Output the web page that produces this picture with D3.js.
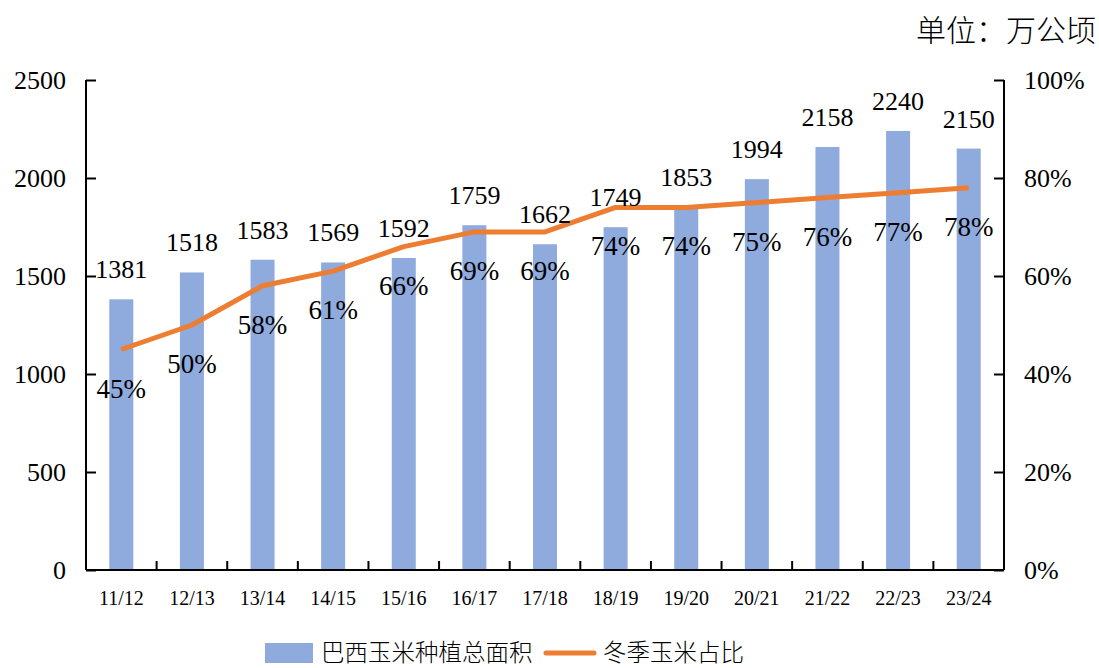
<!DOCTYPE html>
<html>
<head>
<meta charset="utf-8">
<script src="https://cdn.jsdelivr.net/npm/d3@7"></script>
<style>
  body { margin: 0; background: #fff; }
  text { font-family: "Liberation Serif", "Times New Roman", serif; fill: #000; }
  .cjk { font-family: "Noto Sans CJK SC", sans-serif; font-weight: 300; }
</style>
</head>
<body>
<svg id="chart" width="1099" height="668"></svg>
<script>
const seasons = ['11/12', '12/13', '13/14', '14/15', '15/16', '16/17', '17/18', '18/19', '19/20', '20/21', '21/22', '22/23', '23/24']
const totalArea = [1381, 1518, 1583, 1569, 1592, 1759, 1662, 1749, 1853, 1994, 2158, 2240, 2150]
const winterShare = [45, 50, 58, 61, 66, 69, 69, 74, 74, 75, 76, 77, 78]
const leftTicks = [0, 500, 1000, 1500, 2000, 2500]
const rightTicks = [0, 20, 40, 60, 80, 100]

const barColor = '#8FAADC'
const lineColor = '#ED7D31'

const margin = {top: 80, right: 95, bottom: 98, left: 86}
const width = 1099 - margin.left - margin.right
const height = 668 - margin.top - margin.bottom

const svg = d3.select('#chart')
const g = svg.append('g').attr('transform', `translate(${margin.left},${margin.top})`)

const x = d3.scaleBand().domain(seasons).range([0, width])
const y = d3.scaleLinear().domain([0, 2500]).range([height, 0])
const y2 = d3.scaleLinear().domain([0, 100]).range([height, 0])
const barW = 24
const cx = i => x(seasons[i]) + x.bandwidth() / 2

// bars
g.selectAll('rect.bar').data(totalArea).enter().append('rect')
    .attr('class', 'bar')
    .attr('x', (d, i) => cx(i) - barW / 2)
    .attr('y', d => y(d))
    .attr('width', barW)
    .attr('height', d => height - y(d))
    .attr('fill', barColor)

// line
const line = d3.line()
    .x((d, i) => cx(i))
    .y(d => y2(d))
g.append('path')
    .datum(winterShare)
    .attr('d', line)
    .attr('fill', 'none')
    .attr('stroke', lineColor)
    .attr('stroke-width', 5)
    .attr('stroke-linejoin', 'round')

// bar labels
g.selectAll('text.barlab').data(totalArea).enter().append('text')
    .attr('x', (d, i) => cx(i))
    .attr('y', d => y(d) - 21)
    .attr('text-anchor', 'middle')
    .attr('font-size', 26)
    .text(d => d)

// percent labels
g.selectAll('text.pctlab').data(winterShare).enter().append('text')
    .attr('x', (d, i) => cx(i))
    .attr('y', d => y2(d) + 48)
    .attr('text-anchor', 'middle')
    .attr('font-size', 27)
    .text(d => d + '%')

// axes
const axisL = g.append('g')
    .call(d3.axisLeft(y).tickValues(leftTicks).tickSize(-10).tickPadding(20).tickFormat(d3.format('d')))
axisL.select('.domain').attr('stroke-width', 2).attr('d', `M0,0V${height}`)
axisL.selectAll('.tick line').attr('stroke-width', 2)
axisL.selectAll('.tick text').attr('font-size', 26)

const axisR = g.append('g').attr('transform', `translate(${width},0)`)
    .call(d3.axisRight(y2).tickValues(rightTicks).tickSize(-10).tickPadding(20).tickFormat(d => d + '%'))
axisR.select('.domain').attr('stroke-width', 2).attr('d', `M0,0V${height}`)
axisR.selectAll('.tick line').attr('stroke-width', 2)
axisR.selectAll('.tick text').attr('font-size', 26)

const axisB = g.append('g').attr('transform', `translate(0,${height})`)
axisB.append('line')
    .attr('x1', 0).attr('x2', width)
    .attr('stroke', '#000').attr('stroke-width', 2)
axisB.selectAll('line.tk').data(seasons.slice(1)).enter().append('line')
    .attr('x1', d => x(d)).attr('x2', d => x(d))
    .attr('y1', 0).attr('y2', -9)
    .attr('stroke', '#000').attr('stroke-width', 2)
axisB.selectAll('text').data(seasons).enter().append('text')
    .attr('x', d => x(d) + x.bandwidth() / 2)
    .attr('y', 35)
    .attr('text-anchor', 'middle')
    .attr('font-size', 20)
    .text(d => d)

// unit
svg.append('text')
    .attr('class', 'cjk')
    .attr('x', 1096).attr('y', 41)
    .attr('text-anchor', 'end')
    .attr('font-size', 30)
    .text('单位：万公顷')

// legend
const lg = svg.append('g').attr('transform', 'translate(0,653)')
lg.append('rect').attr('x', 265).attr('y', -10).attr('width', 48).attr('height', 20).attr('fill', barColor)
lg.append('text').attr('class', 'cjk').attr('x', 321).attr('y', 8).attr('font-size', 23.5).text('巴西玉米种植总面积')
lg.append('line').attr('x1', 546).attr('x2', 594).attr('y1', 0).attr('y2', 0)
    .attr('stroke', lineColor).attr('stroke-width', 5).attr('stroke-linecap', 'round')
lg.append('text').attr('class', 'cjk').attr('x', 603).attr('y', 8).attr('font-size', 23.5).text('冬季玉米占比')
</script>
</body>
</html>
